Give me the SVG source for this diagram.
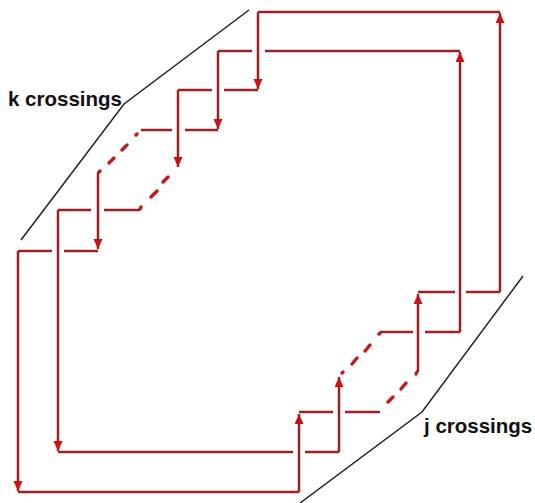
<svg xmlns="http://www.w3.org/2000/svg" width="535" height="503" viewBox="0 0 535 503">
  <style>
    .strand { fill: none; stroke: #9e2024; stroke-width: 2.5; stroke-linecap: butt; }
    .dots { fill: none; stroke: #c01c20; stroke-width: 3.5; stroke-linecap: round; }
    .guide { fill: none; stroke: #222; stroke-width: 1.5; }
    .label { font-family: "Liberation Sans", Arial, sans-serif; font-weight: bold; font-size: 20.5px; fill: #111; }
  </style>
  <defs>
    <marker id="head" markerUnits="userSpaceOnUse" markerWidth="11" markerHeight="10" refX="10" refY="4.5" orient="auto">
      <path d="M0,0 L10,4.5 L0,9 z" fill="#cc1014"/>
    </marker>
  </defs>

  <rect width="535" height="503" fill="#fff"/>

  <!-- bracket lines beside the two twist regions -->
  <g id="guides">
    <polyline class="guide" points="21,240 124,104 249,10"/>
    <polyline class="guide" points="300,503 422,412 523,276"/>
  </g>

  <g id="strands">
    <!-- outer frame: top and right side -->
    <path class="strand" d="M258,12 H500"/>
    <path class="strand" d="M500,292 V13" marker-end="url(#head)"/>
    <!-- inner frame: top and right side -->
    <path class="strand" d="M218,51 H252 M265,51 H460"/>
    <path class="strand" d="M460,332 V52" marker-end="url(#head)"/>

    <!-- k crossings (upper left) -->
    <path class="strand" d="M258,12 V89" marker-end="url(#head)"/>
    <path class="strand" d="M178,90 H212 M224,90 H258"/>
    <path class="strand" d="M218,51 V129" marker-end="url(#head)"/>
    <path class="strand" d="M141,130 H172 M185,130 H218"/>
    <path class="strand" d="M178,90 V167" marker-end="url(#head)"/>
    <path class="dots" d="M137,134 L136,135 M127,145 L122,150 M114,158 L109,163 M100,171 L99,172"/>
    <path class="dots" d="M168,177 L163,182 M157,191 L151,197 M141,207 L140,209"/>
    <path class="strand" d="M98,172 V249" marker-end="url(#head)"/>
    <path class="strand" d="M58,210 H91 M104,210 H140"/>
    <path class="strand" d="M18,251 H52 M64,251 H98"/>

    <!-- left sides of both frames -->
    <path class="strand" d="M58,210 V451" marker-end="url(#head)"/>
    <path class="strand" d="M18,251 V491" marker-end="url(#head)"/>
    <path class="strand" d="M58,452 H293 M305,452 H339"/>
    <path class="strand" d="M18,492 H299"/>

    <!-- j crossings (lower right) -->
    <path class="strand" d="M299,492 V414" marker-end="url(#head)"/>
    <path class="strand" d="M299,412 H333 M345,412 H380"/>
    <path class="strand" d="M339,452 V377" marker-end="url(#head)"/>
    <path class="dots" d="M342,373 L343,372 M352,364 L357,358 M365,351 L370,345 M379,334 L380,333"/>
    <path class="dots" d="M388,402 L393,397 M401,389 L406,383 M416,374 L417,372"/>
    <path class="strand" d="M380,332 H413 M425,332 H460"/>
    <path class="strand" d="M418,372 V294" marker-end="url(#head)"/>
    <path class="strand" d="M418,292 H455 M466,292 H500"/>
  </g>

  <g id="labels">
    <text class="label" x="8" y="106">k crossings</text>
    <text class="label" x="424" y="433">j crossings</text>
  </g>
</svg>
